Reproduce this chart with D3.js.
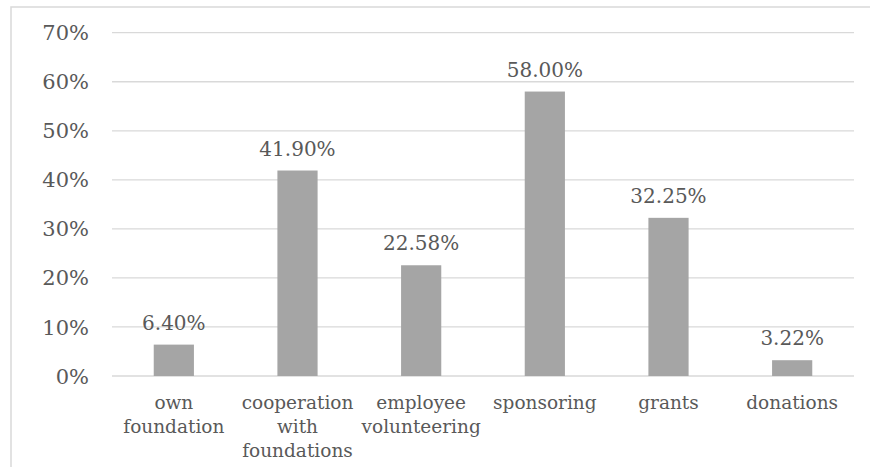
<!DOCTYPE html>
<html>
<head>
<meta charset="utf-8">
<script src="https://cdn.jsdelivr.net/npm/d3@7"></script>
<style>
  body { margin: 0; background: #fff; }
  svg text { font-family: "DejaVu Serif", "Liberation Serif", serif; fill: #595959; }
</style>
</head>
<body>
<div id="chart"></div>
<script>
// chart data
const categories = ['own foundation', 'cooperation with foundations', 'employee volunteering', 'sponsoring', 'grants', 'donations'];
const categoryLines = [['own', 'foundation'], ['cooperation', 'with', 'foundations'], ['employee', 'volunteering'], ['sponsoring'], ['grants'], ['donations']];
const values = [6.40, 41.90, 22.58, 58.00, 32.25, 3.22];
const yTicks = [0, 10, 20, 30, 40, 50, 60, 70];

const W = 870, H = 467;
const plot = {left: 112, right: 854, top: 32.7, bottom: 376};

const svg = d3.select('#chart').append('svg').attr('width', W).attr('height', H);

// outer frame
svg.append('rect')
  .attr('x', 11).attr('y', 7).attr('width', W).attr('height', H)
  .attr('fill', 'none').attr('stroke', '#d9d9d9').attr('stroke-width', 1.5);

const x = d3.scaleBand().domain(categories).range([plot.left, plot.right]).padding(0);
const y = d3.scaleLinear().domain([0, 70]).range([plot.bottom, plot.top]);
const barW = x.bandwidth() * 0.325;

// gridlines
svg.append('g').selectAll('line').data(yTicks).join('line')
  .attr('x1', plot.left).attr('x2', plot.right)
  .attr('y1', d => y(d)).attr('y2', d => y(d))
  .attr('stroke', '#d9d9d9').attr('stroke-width', 1.3);

// y labels
svg.append('g').selectAll('text').data(yTicks).join('text')
  .attr('x', 89).attr('y', d => y(d))
  .attr('dy', '0.36em')
  .attr('text-anchor', 'end')
  .attr('font-size', '21px')
  .text(d => d + '%');

// bars
svg.append('g').selectAll('rect').data(values).join('rect')
  .attr('x', (d, i) => x(categories[i]) + x.bandwidth() / 2 - barW / 2)
  .attr('y', d => y(d))
  .attr('width', barW)
  .attr('height', d => y(0) - y(d))
  .attr('fill', '#a5a5a5');

// value labels
svg.append('g').selectAll('text').data(values).join('text')
  .attr('x', (d, i) => x(categories[i]) + x.bandwidth() / 2)
  .attr('y', d => y(d) - 15)
  .attr('text-anchor', 'middle')
  .attr('font-size', '20px')
  .text(d => d.toFixed(2) + '%');

// category labels
const cat = svg.append('g').selectAll('text').data(categoryLines).join('text')
  .attr('text-anchor', 'middle')
  .attr('font-size', '18.5px');
cat.each(function(lines, i) {
  const cx = x(categories[i]) + x.bandwidth() / 2;
  d3.select(this).selectAll('tspan').data(lines).join('tspan')
    .attr('x', cx)
    .attr('y', (d, j) => 409 + j * 24)
    .text(d => d);
});
</script>
</body>
</html>
